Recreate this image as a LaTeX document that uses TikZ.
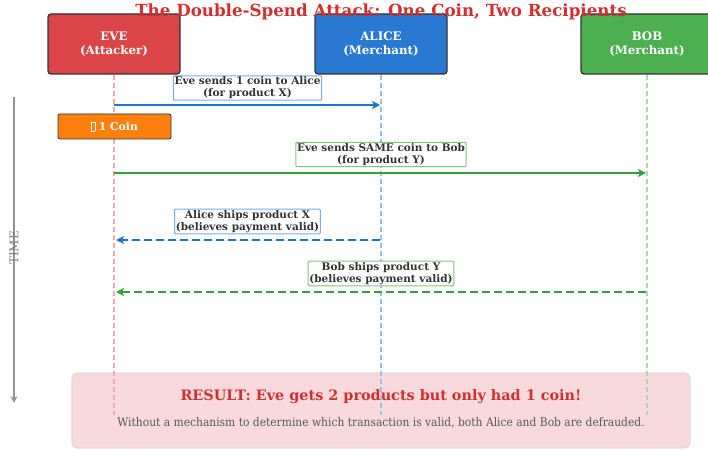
\documentclass[tikz,border=0pt]{standalone}
\usepackage{fontspec}
\setmainfont{DejaVu Serif}
\newfontfamily\condfont{DejaVu Serif Condensed}
\usetikzlibrary{arrows.meta}
\definecolor{titlered}{HTML}{D32F2F}
\definecolor{evefill}{HTML}{DB4548}
\definecolor{alicefill}{HTML}{2979D3}
\definecolor{bobfill}{HTML}{4CAF50}
\definecolor{arrblue}{HTML}{1976D2}
\definecolor{arrgreen}{HTML}{30A237}
\definecolor{coinorange}{HTML}{FF7F0F}
\definecolor{lblblue}{HTML}{78ADE8}
\definecolor{lblgreen}{HTML}{7EC682}
\definecolor{lifered}{HTML}{F5A8AA}
\definecolor{lifeblue}{HTML}{9AC0EE}
\definecolor{lifegreen}{HTML}{ABDAAE}
\definecolor{resfill}{HTML}{F8DADD}
\definecolor{resborder}{HTML}{DDDDDD}
\definecolor{darktext}{HTML}{333333}
\tikzset{
  actor/.style={draw=black!80, line width=1.3pt, rounded corners=3pt, minimum width=132pt, minimum height=60pt, text=white, font=\fontsize{11.8}{13.5}\selectfont\bfseries, align=center},
  lbl/.style={draw, fill=white, line width=1pt, rounded corners=1pt, inner sep=1.2pt, text=darktext, font=\fontsize{10.5}{11.8}\selectfont\bfseries, align=center},
  lifeline/.style={line width=1.2pt, dash pattern=on 5pt off 3pt},
  msg/.style={line width=2.4pt, -{Stealth[length=8pt,width=8pt,inset=2pt]}},
  reply/.style={line width=2.4pt, dash pattern=on 8pt off 4pt, -{Stealth[length=8pt,width=8pt,inset=2pt]}},
}
\begin{document}
\begin{tikzpicture}[x=1pt,y=-1pt]
\useasboundingbox (0,0) rectangle (708,449);
% result box
\node[draw=resborder, fill=resfill, line width=1.2pt, rounded corners=5pt, minimum width=618pt, minimum height=75pt] (result) at (381,410.5) {};
% actors
\node[actor, fill=evefill] (eve) at (114,44) {EVE\\(Attacker)};
\node[actor, fill=alicefill] (alice) at (381,44) {ALICE\\(Merchant)};
\node[actor, fill=bobfill] (bob) at (647,44) {BOB\\(Merchant)};
% lifeline ends
\coordinate (eveend) at (114,415);
\coordinate (aliceend) at (381,415);
\coordinate (bobend) at (647,415);
\draw[lifeline, draw=lifered] (eve.south) -- (eveend);
\draw[lifeline, draw=lifeblue] (alice.south) -- (aliceend);
\draw[lifeline, draw=lifegreen] (bob.south) -- (bobend);
% title
\node[text=titlered, font=\fontsize{16.7}{18}\selectfont\bfseries] (title) at (381,12) {The Double-Spend Attack: One Coin, Two Recipients};
% message points
\coordinate (e1) at (114,105); \coordinate (a1) at (380,105);
\coordinate (e2) at (114,173); \coordinate (b2) at (646,173);
\coordinate (a3) at (380,240); \coordinate (e3) at (116,240);
\coordinate (b4) at (646,292); \coordinate (e4) at (116,292);
\draw[msg, draw=arrblue, fill=arrblue] (e1) -- (a1);
\draw[msg, draw=arrgreen, fill=arrgreen] (e2) -- (b2);
\draw[reply, draw=arrblue, fill=arrblue] (a3) -- (e3);
\draw[reply, draw=arrgreen, fill=arrgreen] (b4) -- (e4);
\node[lbl, draw=lblblue] (l1) at (247.5,88) {Eve sends 1 coin to Alice\\(for product X)};
\node[lbl, draw=lblgreen] (l2) at (381,154.5) {Eve sends SAME coin to Bob\\(for product Y)};
\node[lbl, draw=lblblue] (l3) at (247.5,221.5) {Alice ships product X\\(believes payment valid)};
\node[lbl, draw=lblgreen] (l4) at (381,273.5) {Bob ships product Y\\(believes payment valid)};
% coin
\node[draw=black!80, line width=0.8pt, fill=coinorange, rounded corners=2pt, minimum width=113pt, minimum height=25pt, text=white, font=\fontsize{10.8}{12}\selectfont\bfseries] (coin) at (114.5,126.5) {{\setlength\fboxsep{0pt}\setlength\fboxrule{0.5pt}\fbox{\phantom{\rule{3pt}{8.5pt}}}}\ 1 Coin};
% time axis
\coordinate (t0) at (14,97);
\coordinate (t1) at (14,403);
\draw[gray!85, line width=1.3pt, -{Stealth[length=7pt,width=7pt,open]}] (t0) -- (t1);
\node[rotate=90, text=gray, font=\fontsize{12}{14}\selectfont] (time) at (14,248) {TIME};
% result text
\node[text=titlered, font=\fontsize{14.4}{16}\selectfont\bfseries] (restitle) at (381,397) {RESULT: Eve gets 2 products but only had 1 coin!};
\node[text=black!65, font=\condfont\fontsize{11.9}{13}\selectfont] (restext) at (381,423) {Without a mechanism to determine which transaction is valid, both Alice and Bob are defrauded.};
\end{tikzpicture}
\end{document}
